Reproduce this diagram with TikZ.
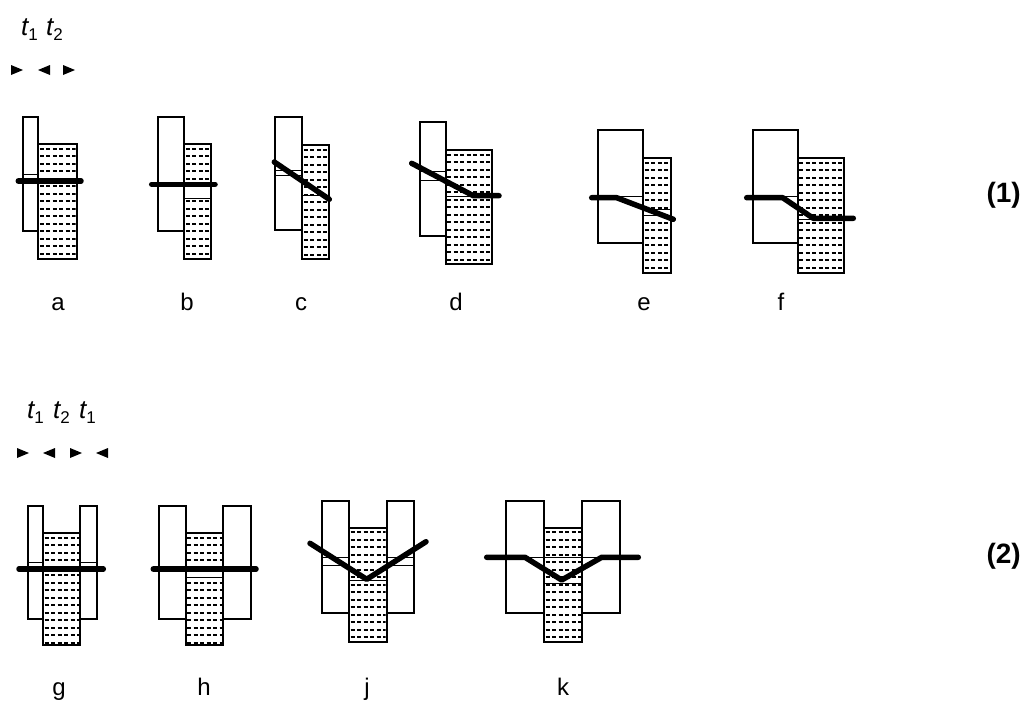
\documentclass[tikz,border=0pt]{standalone}
\usepackage{fontspec}
\setmainfont{Liberation Sans}
\tikzset{
 outline/.style={draw=black, line width=2pt},
 thinline/.style={draw=black, line width=1pt},
 bar/.style={draw=black, line width=5.5pt, line cap=round, line join=round},
 dashrow/.style={draw=black, line width=2pt, dash pattern=on 4pt off 2.5pt},
 lab/.style={font=\fontsize{24}{24}\selectfont, anchor=base, inner sep=0pt},
 num/.style={font=\fontsize{28}{28}\selectfont\bfseries, anchor=base east, inner sep=0pt},
 tl/.style={font=\fontsize{26}{26}\selectfont\itshape, anchor=base west, inner sep=0pt},
}
\newcommand{\dotrect}[4]{%
 \begin{scope}
 \clip (#1+1,#2+1) rectangle (#3-1,#4-1);
 \foreach \k in {0,...,16}{\draw[dashrow] (#1+1.5,#2+4.5+\k*7.5) -- (#3,#2+4.5+\k*7.5);}
 \end{scope}}
\newcommand{\sub}[1]{\raisebox{-5pt}{\fontsize{17}{17}\selectfont\upshape #1}}
\begin{document}
\begin{tikzpicture}[x=1pt,y=-1pt]
\useasboundingbox (0,0) rectangle (1024,704);
% ---- headers
\node[tl] (ta1) at (21,35) {t\sub{1}};
\node[tl] (ta2) at (46,35) {t\sub{2}};
\fill (11,65) -- (23,70) -- (11,75) -- cycle;
\fill (50,65) -- (38,70) -- (50,75) -- cycle;
\fill (63,65) -- (75,70) -- (63,75) -- cycle;
\node[tl] (tb1) at (27,418) {t\sub{1}};
\node[tl] (tb2) at (53,418) {t\sub{2}};
\node[tl] (tb3) at (79,418) {t\sub{1}};
\fill (17,448) -- (29,453) -- (17,458) -- cycle;
\fill (55,448) -- (43,453) -- (55,458) -- cycle;
\fill (70,448) -- (82,453) -- (70,458) -- cycle;
\fill (108,448) -- (96,453) -- (108,458) -- cycle;
% ---- panel a
\dotrect{38.3}{144.3}{76.7}{259.3}
\draw[thinline] (22.7,174.7) -- (38.3,174.7);
\draw[outline] (22.7,116.7) rectangle (38.3,230.7);
\draw[outline] (38.3,144.3) rectangle (76.7,259.3);
\draw[bar] (18.3,181) -- (81,181);
% ---- panel b
\dotrect{184.3}{144.3}{210.7}{259.3}
\fill[white] (185.5,186) rectangle (209.5,198.7);
\draw[thinline] (184.3,198.7) -- (210.7,198.7);
\draw[outline] (158.3,116.7) rectangle (184.3,230.7);
\draw[outline] (184.3,144.3) rectangle (210.7,259.3);
\draw[bar] (151.7,184.3) -- (215,184.3);
% ---- panel c
\dotrect{302.3}{145}{328.7}{259.3}
\draw[thinline] (275,170.7) -- (302.3,170.7);
\draw[thinline] (275,175) -- (302.3,175);
\draw[thinline] (302.3,195) -- (328.7,195);
\draw[outline] (275,117.3) rectangle (302.3,230);
\draw[outline] (302.3,145) rectangle (328.7,259.3);
\draw[bar] (274.3,162) -- (329.3,199.3);
% ---- panel d
\dotrect{445.7}{150}{491.7}{264}
\draw[thinline] (420.3,171) -- (445.7,171);
\draw[thinline] (420.3,180) -- (445.7,180);
\draw[thinline] (445.7,196.7) -- (491.7,196.7);
\draw[outline] (420.3,122) rectangle (445.7,235.7);
\draw[outline] (445.7,150) rectangle (491.7,264);
\draw[bar] (411.7,163.3) -- (473.3,195.7) -- (499,195.7);
% ---- panel e
\dotrect{643.3}{158.3}{670.7}{272.7}
\fill[white] (644.5,209.3) rectangle (669.5,215.3);
\draw[thinline] (616.7,196) -- (643.3,196);
\draw[thinline] (643.3,209.3) -- (670.7,209.3);
\draw[thinline] (643.3,215.3) -- (670.7,215.3);
\draw[outline] (598.3,130) rectangle (643.3,243.3);
\draw[outline] (643.3,158.3) rectangle (670.7,272.7);
\draw[bar] (591.7,197.7) -- (616.7,197.7) -- (673.3,219.3);
% ---- panel f
\dotrect{797.7}{158.3}{844}{272.7}
\draw[thinline] (782.7,196) -- (797.7,196);
\draw[thinline] (797.7,219.3) -- (844,219.3);
\draw[outline] (752.7,130) rectangle (797.7,243.3);
\draw[outline] (797.7,158.3) rectangle (844,272.7);
\draw[bar] (746.7,197.7) -- (782.7,197.7) -- (813.3,218.3) -- (853.3,218.3);
% ---- row 1 labels
\node[lab] (la) at (58,310) {a};
\node[lab] (lb) at (187,310) {b};
\node[lab] (lc) at (301,310) {c};
\node[lab] (ld) at (456,310) {d};
\node[lab] (le) at (644,310) {e};
\node[lab] (lf) at (781,310) {f};
\node[num] (n1) at (1021,202) {(1)};
% ---- panel g
\dotrect{43}{533.3}{80}{645}
\draw[thinline] (27.7,562.3) -- (43,562.3);
\draw[thinline] (80,562.3) -- (96.7,562.3);
\draw[outline] (27.7,506) rectangle (43,619);
\draw[outline] (80,506) rectangle (96.7,619);
\draw[outline] (43,533.3) rectangle (80,645);
\draw[bar] (19,569) -- (103.3,569);
% ---- panel h
\dotrect{185.7}{533.3}{223.3}{645}
\fill[white] (187,571) rectangle (222,577.7);
\draw[thinline] (185.7,577.7) -- (223.3,577.7);
\draw[outline] (159,506) rectangle (185.7,619);
\draw[outline] (223.3,506) rectangle (250.7,619);
\draw[outline] (185.7,533.3) rectangle (223.3,645);
\draw[bar] (153.3,569) -- (256,569);
% ---- panel j
\dotrect{349}{527.7}{386.7}{641.7}
\draw[thinline] (322.3,557.3) -- (349,557.3);
\draw[thinline] (322.3,565) -- (349,565);
\draw[thinline] (386.7,557.3) -- (414,557.3);
\draw[thinline] (386.7,565) -- (414,565);
\draw[thinline] (349,580) -- (386.7,580);
\draw[outline] (322.3,500.7) rectangle (349,613.3);
\draw[outline] (386.7,500.7) rectangle (414,613.3);
\draw[outline] (349,527.7) rectangle (386.7,641.7);
\draw[bar] (310,543.3) -- (366.7,579.3) -- (426,541.7);
% ---- panel k
\dotrect{544}{527.7}{582.3}{641.7}
\draw[thinline] (525,557.3) -- (601.7,557.3);
\draw[thinline] (544,583.3) -- (582.3,583.3);
\draw[outline] (506,500.7) rectangle (544,613.3);
\draw[outline] (582.3,500.7) rectangle (620,613.3);
\draw[outline] (544,527.7) rectangle (582.3,641.7);
\draw[bar] (486.7,557.3) -- (525,557.3) -- (561.7,580) -- (601.7,557.3) -- (638.3,557.3);
% ---- row 2 labels
\node[lab] (lg) at (59,695) {g};
\node[lab] (lh) at (204,695) {h};
\node[lab] (lj) at (367,695) {j};
\node[lab] (lk) at (563,695) {k};
\node[num] (n2) at (1021,563) {(2)};
\end{tikzpicture}
\end{document}
